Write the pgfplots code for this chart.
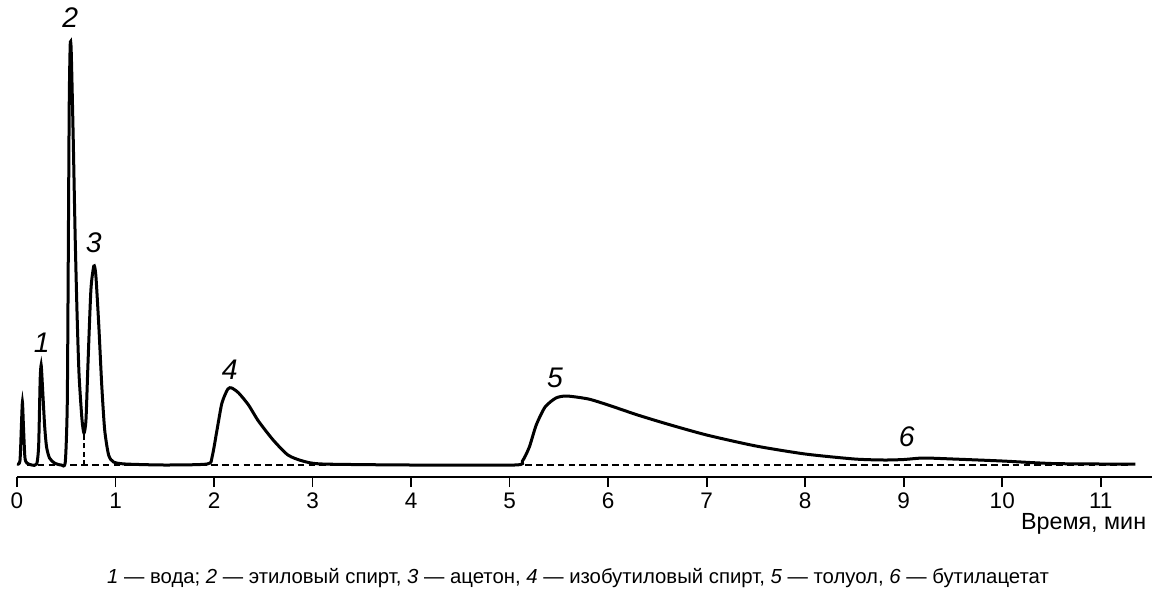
\documentclass[border=0pt]{standalone}
\usepackage{pgfplots}
\pgfplotsset{compat=1.18}
\usepackage{fontspec}
\setmainfont{Liberation Sans}
\begin{document}
\begin{tikzpicture}
\begin{axis}[
  scale only axis, width=681pt, height=274.2pt,
  xmin=0, xmax=11.52, ymin=-12, ymax=445,
  axis x line=bottom, axis y line=none,
  axis line style={-, line width=1.2pt},
  xtick={0,1,...,11}, tick align=outside, major tick length=6pt,
  tick style={line width=1pt, black},
  /pgf/number format/assume math mode=true,
  ticklabel style={font=\fontsize{13.5}{15}\selectfont},
  clip=false,
]
\coordinate (o) at (rel axis cs:0,0);
\addplot[black, dash pattern=on 4pt off 2.5pt, line width=0.7pt] coordinates {(0.1,0) (11.3,0)};
\addplot[black, dash pattern=on 3pt off 2pt, line width=0.7pt] coordinates {(0.68,0) (0.68,32)};
\addplot[black, line width=1.8pt, smooth, tension=0.4] coordinates {
(0.0,1)(0.03,4)(0.045,40)(0.055,63)(0.065,40)(0.08,8)(0.1,2)(0.15,0)(0.2,1)(0.22,20)(0.235,85)(0.245,100)(0.255,85)(0.28,40)(0.30,18)(0.33,7)(0.38,2)(0.45,0)(0.49,3)(0.51,60)(0.52,200)(0.53,360)(0.54,420)(0.55,415)(0.57,330)(0.59,230)(0.61,150)(0.63,90)(0.66,45)(0.68,32)(0.70,45)(0.72,100)(0.75,175)(0.78,199)(0.80,190)(0.83,140)(0.86,80)(0.89,35)(0.93,10)(0.98,3)(1.1,1)(1.5,0)(1.93,1)(1.98,8)(2.03,35)(2.08,62)(2.14,76)(2.18,77)(2.25,72)(2.35,60)(2.45,44)(2.6,25)(2.75,10)(2.9,4)(3.1,1)(4,0)(5.05,0)(5.13,4)(5.2,18)(5.27,40)(5.36,58)(5.47,67)(5.58,69)(5.8,66)(6.0,60)(6.3,50)(6.6,41)(7.0,30)(7.5,19)(8.0,11)(8.5,6)(8.8,5)(9.0,5.5)(9.2,7)(9.5,6)(10,4)(10.5,1.5)(11,1)(11.35,1)};
\node[font=\fontsize{17}{19}\selectfont\itshape] at (axis cs:0.25,122) {1};
\node[font=\fontsize{17}{19}\selectfont\itshape] at (axis cs:0.54,447) {2};
\node[font=\fontsize{17}{19}\selectfont\itshape] at (axis cs:0.78,222) {3};
\node[font=\fontsize{17}{19}\selectfont\itshape] at (axis cs:2.16,95) {4};
\node[font=\fontsize{17}{19}\selectfont\itshape] at (axis cs:5.46,87) {5};
\node[font=\fontsize{17}{19}\selectfont\itshape] at (axis cs:9.03,28) {6};
\end{axis}
\node[anchor=east, font=\fontsize{14}{16}\selectfont] at ([shift={(681pt,-28pt)}]o) {Время, мин};
\node[font=\fontsize{12.2}{14}\selectfont] at ([shift={(336.6pt,-60.6pt)}]o) {\textit{1} — вода; \textit{2} — этиловый спирт, \textit{3} — ацетон, \textit{4} — изобутиловый спирт, \textit{5} — толуол, \textit{6} — бутилацетат};
\path ([shift={(-10.2pt,-69pt)}]o) rectangle ++(694.8pt,355.2pt);
\end{tikzpicture}
\end{document}
